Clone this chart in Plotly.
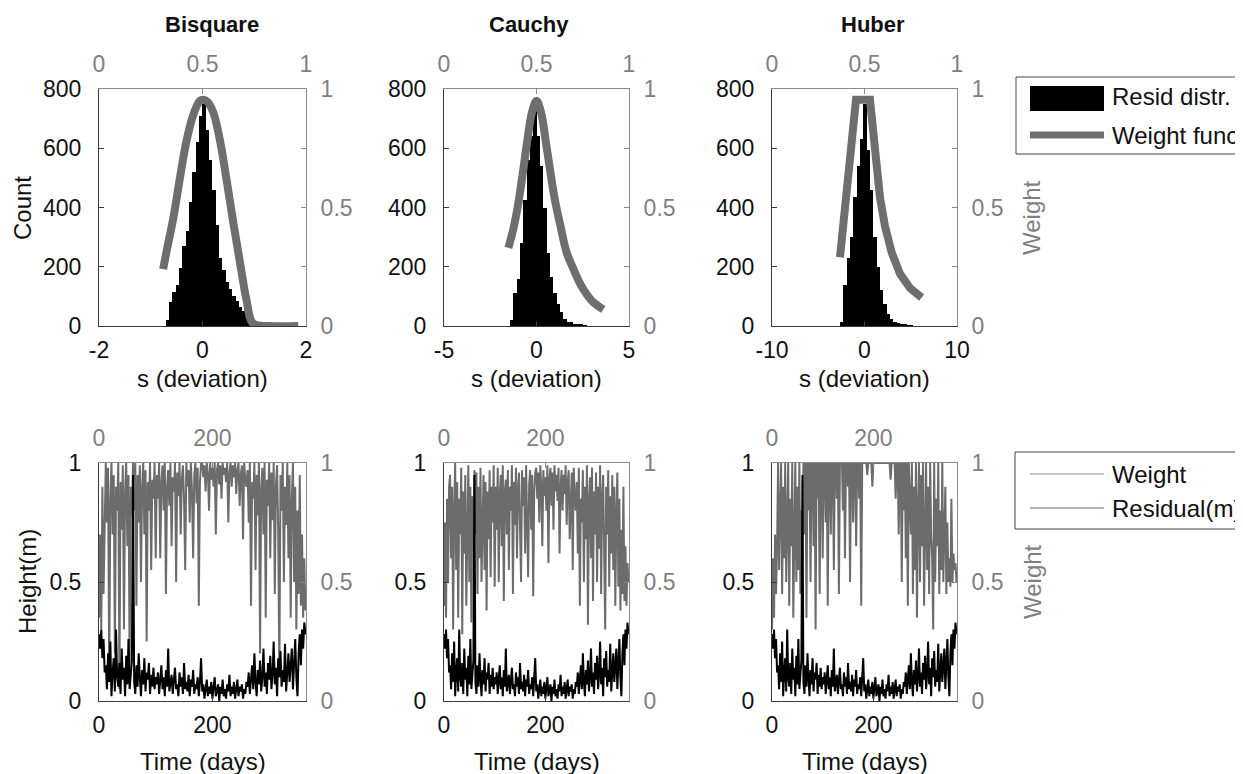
import numpy as np
import plotly.graph_objects as go

# ---------------- DATA ----------------
methods = ["Bisquare", "Cauchy", "Huber"]

# Residual histograms (bin start, bin width, counts)
bsq_bin_start, bsq_bin_width = -0.71, 0.0644
bsq_counts = [20, 80, 115, 140, 195, 270, 320, 420, 520, 620, 710, 750, 660, 560,
              460, 340, 230, 190, 150, 125, 100, 85, 65, 50, 25, 8]
cau_bin_start, cau_bin_width = -1.43, 0.18
cau_counts = [20, 110, 160, 280, 425, 560, 640, 725, 640, 540, 400, 245, 165, 110,
              75, 47, 25, 15, 12, 6, 5, 4, 3]
hub_bin_start, hub_bin_width = -2.65, 0.36
hub_counts = [12, 140, 230, 300, 435, 540, 630, 750, 595, 460, 300, 200, 120, 75,
              40, 24, 14, 10, 6, 4, 3, 2]

# Weight functions (s, weight)
bsq_s = [-0.76, -0.69, -0.56, -0.44, -0.31, -0.18, -0.05, 0.02, 0.10, 0.21, 0.34,
         0.47, 0.60, 0.73, 0.85, 0.98, 1.3, 1.85]
bsq_w = [0.24, 0.32, 0.46, 0.62, 0.78, 0.89, 0.95, 0.955, 0.945, 0.90, 0.78,
         0.61, 0.43, 0.26, 0.11, 0.01, 0.0, 0.0]
cau_s = [-1.52, -1.25, -1.0, -0.75, -0.5, -0.25, 0.0, 0.25, 0.5, 0.75, 1.0, 1.3,
         1.63, 2.0, 2.35, 2.7, 3.07, 3.61]
cau_w = [0.33, 0.41, 0.51, 0.64, 0.78, 0.90, 0.95, 0.90, 0.78, 0.65, 0.53, 0.42,
         0.31, 0.24, 0.18, 0.135, 0.10, 0.07]
hub_s = [-2.65, -2.29, -1.93, -1.57, -1.21, -0.92, 0.59, 0.95, 1.31, 1.68, 2.22,
         2.94, 3.84, 4.92, 6.18]
hub_w = [0.29, 0.42, 0.54, 0.68, 0.84, 0.955, 0.955, 0.81, 0.67, 0.54, 0.42,
         0.31, 0.22, 0.16, 0.12]

# Time series (sampled every 2 days over 0..364)
residual_m = [0.28, 0.22, 0.30, 0.18, 0.26, 0.12,
              0.15, 0.05, 0.20, 0.08, 0.25, 0.02, 0.12, 0.18, 0.04, 0.30, 0.10, 0.06, 0.16,
              0.03, 0.22, 0.09, 0.14, 0.02, 0.19, 0.07, 0.26, 0.05, 0.11, 0.17, 0.95,
              0.08, 0.03, 0.15, 0.06, 0.20, 0.10, 0.02, 0.13, 0.07, 0.18, 0.04, 0.12, 0.09,
              0.16, 0.03, 0.11, 0.06, 0.14, 0.05, 0.10,
              0.07, 0.12, 0.03, 0.09, 0.15, 0.05, 0.10, 0.02, 0.13, 0.06, 0.22, 0.04, 0.08,
              0.11, 0.03, 0.09, 0.14, 0.05, 0.07, 0.02, 0.12, 0.06, 0.10, 0.03, 0.16, 0.05,
              0.08, 0.04, 0.11, 0.02, 0.09, 0.06, 0.13, 0.03, 0.07, 0.05, 0.10, 0.02, 0.08, 0.18,
              0.04, 0.07, 0.01, 0.05, 0.09, 0.02, 0.06, 0.03, 0.08, 0.01, 0.05, 0.10, 0.02,
              0.04, 0.07, 0.00, 0.06, 0.03, 0.09, 0.02, 0.05, 0.01, 0.07, 0.04, 0.11, 0.02,
              0.06, 0.03, 0.08, 0.01, 0.05, 0.09, 0.02, 0.06, 0.04, 0.07, 0.01, 0.05, 0.03, 0.08,
              0.06, 0.12, 0.03, 0.09, 0.15, 0.05, 0.20, 0.08, 0.02, 0.13, 0.07, 0.17, 0.04,
              0.10, 0.22, 0.06, 0.12, 0.03, 0.16, 0.09, 0.19, 0.05, 0.11, 0.25, 0.07, 0.14,
              0.02, 0.18, 0.10, 0.21, 0.06, 0.13, 0.08, 0.24, 0.04,
              0.12, 0.20, 0.08, 0.15, 0.22, 0.05, 0.18, 0.26, 0.10, 0.02, 0.20, 0.28, 0.15,
              0.30, 0.22, 0.33, 0.28]

weight_bsq = [0.35, 0.7, 0.3, 0.9, 0.45, 0.8,
              1.0, 0.75, 0.98, 0.1, 0.85, 1.0, 0.7, 0.95, 0.2, 0.9, 0.8, 1.0, 0.05, 0.92,
              0.72, 0.99, 0.3, 0.88, 1.0, 0.65, 0.95, 0.15, 0.9, 0.78, 1.0,
              0.8, 1.0, 0.4, 0.95, 0.75, 0.99, 0.5, 0.9, 1.0, 0.7, 0.97, 0.25, 0.92, 0.8,
              1.0, 0.55, 0.93, 0.85, 1.0, 0.6,
              0.95, 0.85, 1.0, 0.6, 0.92, 0.99, 0.8, 1.0, 0.45, 0.9, 0.97, 0.82, 1.0, 0.65,
              0.94, 0.88, 1.0, 0.5, 0.96, 0.86, 1.0, 0.7, 0.93, 0.99, 0.84, 0.55, 1.0, 0.9,
              0.97, 0.75, 1.0, 0.88, 0.6, 0.95, 1.0, 0.83, 0.98, 0.4, 0.92, 1.0,
              1.0, 0.94, 0.99, 0.88, 1.0, 0.96, 0.8, 1.0, 0.93, 0.98, 0.9, 1.0, 0.7, 0.97,
              1.0, 0.91, 0.99, 0.85, 1.0, 0.95, 0.98, 0.92, 1.0, 0.75, 0.96, 1.0, 0.9, 0.99,
              0.94, 1.0, 0.87, 0.97, 1.0, 0.82, 0.95, 0.99, 0.68, 1.0, 0.93, 0.9,
              0.97, 0.75, 1.0, 0.4, 0.92, 0.85, 1.0, 0.55, 0.95, 0.78, 1.0, 0.2, 0.9, 0.98,
              0.7, 1.0, 0.35, 0.93, 0.82, 1.0, 0.6, 0.96, 0.76, 1.0, 0.45, 0.91, 0.99, 0.72,
              0.1, 0.95, 0.8, 1.0, 0.5, 0.9, 0.74,
              1.0, 0.6, 0.95, 0.35, 0.85, 1.0, 0.5, 0.9, 0.3, 0.8, 0.45, 0.95, 0.4, 0.7,
              0.35, 0.6, 0.38]

weight_cau = [0.4, 0.75, 0.35, 0.85, 0.5, 0.9,
              0.95, 0.6, 0.9, 0.3, 0.8, 1.0, 0.55, 0.92, 0.35, 0.85, 0.7, 0.98, 0.28, 0.88,
              0.62, 0.95, 0.4, 0.82, 0.99, 0.5, 0.9, 0.33, 0.86, 0.65, 0.97,
              0.7, 0.96, 0.45, 0.9, 0.6, 0.98, 0.5, 0.85, 0.95, 0.55, 0.92, 0.38, 0.88, 0.68,
              0.97, 0.52, 0.9, 0.75, 0.99, 0.48,
              0.9, 0.72, 0.98, 0.5, 0.86, 0.95, 0.65, 0.99, 0.42, 0.88, 0.93, 0.7, 0.97, 0.55,
              0.9, 0.8, 0.99, 0.45, 0.92, 0.74, 0.98, 0.6, 0.89, 0.96, 0.7, 0.5, 0.97, 0.82,
              0.94, 0.62, 0.99, 0.78, 0.52, 0.91, 0.97, 0.72, 0.95, 0.44, 0.88, 0.96,
              0.98, 0.85, 0.96, 0.75, 0.99, 0.9, 0.65, 0.97, 0.86, 0.94, 0.8, 0.99, 0.58, 0.93,
              0.98, 0.82, 0.96, 0.72, 0.99, 0.88, 0.95, 0.84, 0.98, 0.62, 0.9, 0.97, 0.8, 0.95,
              0.87, 0.99, 0.74, 0.92, 0.97, 0.68, 0.9, 0.96, 0.55, 0.98, 0.85, 0.8,
              0.92, 0.62, 0.98, 0.4, 0.85, 0.75, 0.97, 0.5, 0.9, 0.68, 0.99, 0.32, 0.84, 0.94,
              0.6, 0.98, 0.42, 0.88, 0.7, 0.96, 0.5, 0.9, 0.64, 0.99, 0.45, 0.85, 0.95, 0.6,
              0.3, 0.9, 0.7, 0.97, 0.48, 0.86, 0.62,
              0.95, 0.55, 0.9, 0.4, 0.78, 0.96, 0.48, 0.85, 0.38, 0.72, 0.45, 0.9, 0.42, 0.65,
              0.4, 0.58, 0.5]

weight_hub = [0.3, 0.6, 0.35, 0.7, 0.45, 0.65,
              1.0, 0.55, 0.8, 1.0, 0.45, 0.9, 0.6, 1.0, 0.5, 0.75, 1.0, 0.4, 0.85, 0.65,
              1.0, 0.35, 0.7, 1.0, 0.5, 0.9, 0.55, 1.0, 0.45, 0.8, 0.6,
              1.0, 0.7, 1.0, 0.35, 1.0, 0.8, 1.0, 0.5, 1.0, 1.0, 0.65, 1.0, 0.3, 1.0,
              0.85, 1.0, 0.45, 1.0, 1.0, 0.6,
              1.0, 1.0, 0.75, 1.0, 0.4, 1.0, 1.0, 0.7, 1.0, 1.0, 0.55, 1.0, 1.0, 0.85,
              1.0, 0.45, 1.0, 1.0, 1.0, 0.8, 1.0, 0.6, 1.0, 1.0, 0.9, 1.0, 0.5, 1.0,
              1.0, 0.75, 1.0, 1.0, 0.65, 1.0, 1.0, 0.85, 1.0, 0.4, 1.0, 1.0,
              1.0, 1.0, 1.0, 0.95, 1.0, 1.0, 1.0, 1.0, 0.9, 1.0, 1.0, 1.0, 1.0, 1.0,
              1.0, 1.0, 1.0, 1.0, 1.0, 1.0, 1.0, 1.0, 1.0, 1.0, 1.0, 1.0, 0.93, 1.0,
              1.0, 1.0, 1.0, 0.85, 1.0, 1.0, 0.7, 1.0, 1.0, 0.5, 1.0, 0.8,
              1.0, 0.6, 1.0, 0.4, 1.0, 0.85, 0.7, 1.0, 0.45, 0.9, 0.55, 1.0, 0.35, 0.8,
              1.0, 0.5, 0.95, 0.65, 1.0, 0.4, 0.75, 1.0, 0.55, 0.9, 0.45, 1.0, 0.7, 0.6,
              0.3, 1.0, 0.5, 0.85, 0.65, 1.0, 0.45,
              0.8, 0.55, 1.0, 0.5, 0.7, 0.9, 0.45, 0.75, 0.5, 0.6, 0.48, 0.85, 0.5, 0.62,
              0.55, 0.58, 0.5]

hist_sets = [(bsq_bin_start, bsq_bin_width, bsq_counts),
             (cau_bin_start, cau_bin_width, cau_counts),
             (hub_bin_start, hub_bin_width, hub_counts)]
wfun_sets = [(bsq_s, bsq_w, "spline"), (cau_s, cau_w, "spline"), (hub_s, hub_w, "linear")]
weight_sets = [weight_bsq, weight_cau, weight_hub]
s_ranges = [[-2, 2], [-5, 5], [-10, 10]]
s_ticks = [[-2, 0, 2], [-5, 0, 5], [-10, 0, 10]]
s_ticktext = [["-2", "0", "2"], ["-5", "0", "5"], ["-10", "0", "10"]]
day_range = [0, 365]
day_ticks = [0, 200]

# ---------------- LAYOUT GEOMETRY ----------------
PAGE_W, PAGE_H = 1243, 774
OFF = 8  # default page margin around the plot div
W, H = PAGE_W - OFF, PAGE_H - OFF
col_px = [(99, 306), (444, 629), (772, 957)]
top_px = (89, 326)
bot_px = (463, 701)

def px(x):
    return (x - OFF) / W

def py(y):
    return 1 - (y - OFF) / H

FONT = "Liberation Sans, Arial, Helvetica, sans-serif"
BLACK = "#111111"
GRAY = "#7f7f7f"
LINE_DARK = "#3a3a3a"
LINE_GRAY = "#8c8c8c"
FS = 23
FT = 24

fig = go.Figure()
layout = {}

def axname(kind, i):
    return kind + "axis" + ("" if i == 1 else str(i))

def ref(kind, i):
    return kind + ("" if i == 1 else str(i))

for p in range(6):
    row = p // 3
    c = p % 3
    xb, xt = 2 * p + 1, 2 * p + 2
    yl, yr = 2 * p + 1, 2 * p + 2
    x0, x1 = col_px[c]
    t, b = top_px if row == 0 else bot_px
    common = dict(showgrid=False, zeroline=False, showline=True, ticks="inside",
                  ticklen=5, fixedrange=True)
    if row == 0:
        xr, xtv, xtt = s_ranges[c], s_ticks[c], s_ticktext[c]
        yrange, ytv = [0, 800], [0, 200, 400, 600, 800]
        xtop_range, xtop_tv, xtop_tt = [0, 1], [0, 0.5, 1], ["0", "0.5", "1"]
        yr_tv, yr_tt = [0, 0.25, 0.5, 0.75, 1], ["0", "", "0.5", "", "1"]
    else:
        xr, xtv, xtt = day_range, day_ticks, ["0", "200"]
        yrange, ytv = [0, 1], [0, 0.5, 1]
        xtop_range, xtop_tv, xtop_tt = day_range, day_ticks, ["0", "200"]
        yr_tv, yr_tt = [0, 0.5, 1], ["0", "0.5", "1"]
    layout[axname("x", xb)] = dict(common, domain=[px(x0), px(x1)], anchor=ref("y", yl),
                                   range=xr, tickvals=xtv, ticktext=xtt,
                                   linecolor=LINE_DARK, tickcolor=LINE_DARK,
                                   ticklabelstandoff=3,
                                   tickfont=dict(size=FS, family=FONT, color=BLACK))
    layout[axname("x", xt)] = dict(common, overlaying=ref("x", xb), side="top",
                                   anchor=ref("y", yl), range=xtop_range,
                                   tickvals=xtop_tv, ticktext=xtop_tt,
                                   linecolor=LINE_GRAY, tickcolor=LINE_GRAY,
                                   ticklabelstandoff=7,
                                   tickfont=dict(size=FS, family=FONT, color=GRAY))
    layout[axname("y", yl)] = dict(common, domain=[py(b), py(t)], anchor=ref("x", xb),
                                   range=yrange, tickvals=ytv, linecolor=LINE_DARK,
                                   tickcolor=LINE_DARK, ticklabelstandoff=12,
                                   tickfont=dict(size=FS, family=FONT, color=BLACK))
    layout[axname("y", yr)] = dict(common, overlaying=ref("y", yl), side="right",
                                   anchor=ref("x", xb), range=[0, 1],
                                   tickvals=yr_tv, ticktext=yr_tt,
                                   linecolor=LINE_GRAY, tickcolor=LINE_GRAY,
                                   ticklabelstandoff=9,
                                   tickfont=dict(size=FS, family=FONT, color=GRAY))

    # empty helper traces so that the secondary (top / right) axes are drawn
    fig.add_trace(go.Scatter(x=[None], y=[None], mode="lines", showlegend=False,
                             hoverinfo="skip", xaxis=ref("x", xt), yaxis=ref("y", yl)))
    fig.add_trace(go.Scatter(x=[None], y=[None], mode="lines", showlegend=False,
                             hoverinfo="skip", xaxis=ref("x", xb), yaxis=ref("y", yr)))

    if row == 0:
        start, bw, counts = hist_sets[c]
        centers = start + bw * (np.arange(len(counts)) + 0.5)
        fig.add_trace(go.Bar(x=centers, y=counts, width=bw, marker=dict(color="black",
                             line=dict(width=0)), name="Resid distr.", showlegend=False,
                             xaxis=ref("x", xb), yaxis=ref("y", yl), hoverinfo="skip"))
        s, w, shape = wfun_sets[c]
        fig.add_trace(go.Scatter(x=s, y=w, mode="lines", name="Weight func",
                                 line=dict(color="#6e6e6e", width=8, shape=shape),
                                 showlegend=False, xaxis=ref("x", xb), yaxis=ref("y", yr),
                                 hoverinfo="skip"))
    else:
        wts = weight_sets[c]
        tw = np.linspace(0, 364, len(wts))
        tr = np.linspace(0, 364, len(residual_m))
        fig.add_trace(go.Scatter(x=tw, y=wts, mode="lines", name="Weight",
                                 line=dict(color="#6c6c6c", width=2), showlegend=False,
                                 xaxis=ref("x", xb), yaxis=ref("y", yl), hoverinfo="skip"))
        fig.add_trace(go.Scatter(x=tr, y=residual_m, mode="lines", name="Residual(m)",
                                 line=dict(color="black", width=2), showlegend=False,
                                 xaxis=ref("x", xb), yaxis=ref("y", yl), hoverinfo="skip"))

# ---------------- ANNOTATIONS ----------------
ann = []

def text(x, y, s, size=FT, color=BLACK, angle=0, xanchor="center", bold=False):
    ann.append(dict(x=px(x), y=py(y), xref="paper", yref="paper",
                    text=("<b>%s</b>" % s) if bold else s,
                    showarrow=False, textangle=angle, xanchor=xanchor, yanchor="middle",
                    font=dict(size=size, color=color, family=FONT)))

title_x = [212, 529, 873]
for c in range(3):
    text(title_x[c], 25, methods[c], size=22, bold=True)
    cx = (col_px[c][0] + col_px[c][1]) / 2
    text(cx, 379, "s (deviation)")
    text(cx, 761, "Time (days)")
text(23, 208, "Count", angle=-90)
text(27, 582, "Height(m)", angle=-90)
text(1032, 218, "Weight", color=GRAY, angle=-90)
text(1032, 582, "Weight", color=GRAY, angle=-90)

# Legends (drawn as boxes with sample marks)
shapes = []

def rect(x0, y0, x1, y1, line="#444444", fill=None, lw=1):
    shapes.append(dict(type="rect", xref="paper", yref="paper", x0=px(x0), x1=px(x1),
                       y0=py(y1), y1=py(y0), line=dict(color=line, width=lw),
                       fillcolor=fill if fill else "rgba(0,0,0,0)"))

def hline(x0, x1, y, color, lw):
    shapes.append(dict(type="line", xref="paper", yref="paper", x0=px(x0), x1=px(x1),
                       y0=py(y), y1=py(y), line=dict(color=color, width=lw)))

rect(1016, 77, 1262, 154)
rect(1030, 86, 1104, 111, line="black", fill="black", lw=0)
hline(1030, 1104, 135, "#6e6e6e", 7)
text(1110, 97, "Resid distr.", xanchor="left")
text(1110, 135, "Weight func", xanchor="left")

rect(1015, 452, 1262, 529)
hline(1030, 1104, 474, "#8a8a8a", 1.2)
hline(1030, 1104, 508, "#6a6a6a", 1.2)
text(1110, 474, "Weight", xanchor="left")
text(1110, 508, "Residual(m)", xanchor="left")

layout.update(dict(width=W, height=H, margin=dict(l=0, r=0, t=0, b=0, autoexpand=False),
                   paper_bgcolor="white", plot_bgcolor="rgba(0,0,0,0)", showlegend=False,
                   bargap=0, annotations=ann, shapes=shapes,
                   font=dict(family=FONT, size=FS, color=BLACK)))
fig.update_layout(**layout)
fig.write_html("out.html")
